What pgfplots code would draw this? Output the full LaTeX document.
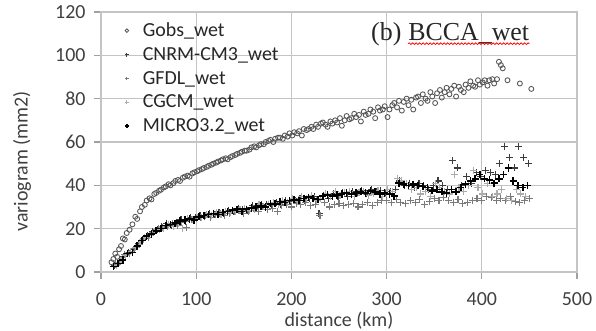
\documentclass[border=0pt]{standalone}
\usepackage{pgfplots}
\pgfplotsset{compat=1.18}
\usepackage{fontspec}
\setmainfont{Carlito}
\newfontfamily\tnr{Liberation Serif}
\usetikzlibrary{decorations.pathmorphing}
\definecolor{txt}{HTML}{404040}
\definecolor{gridc}{HTML}{C4C4C4}
\definecolor{tickc}{HTML}{A0A0A0}
\definecolor{cnrm}{HTML}{3C3C3C}
\definecolor{gfdl}{HTML}{7A7A7A}
\definecolor{cgcm}{HTML}{ABABAB}
\definecolor{gobs}{HTML}{555555}
\pgfplotsset{lgd/.style={legend image code/.code={\path (0cm,0cm) (0.52cm,0cm); \draw[##1, mark size=1.8bp, line width=0.7bp] plot coordinates {(0cm,0cm)};}}}
\begin{document}
\begin{tikzpicture}
\useasboundingbox (-101bp,-59bp) rectangle (495bp,272bp);
\begin{axis}[
  scale only axis, width=476bp, height=260bp,
  xmin=0, xmax=500, ymin=0, ymax=120,
  xtick={0,100,...,500}, ytick={0,20,...,120},
  xmajorgrids, ymajorgrids,
  major grid style={draw=gridc, line width=1.3bp},
  axis line style={draw=gridc, line width=1.3bp},
  major tick style={draw=tickc, line width=1.3bp},
  tick align=outside, major tick length=7bp,
  xtick pos=bottom, ytick pos=left,
  /pgf/number format/assume math mode=true,
  ticklabel style={font=\fontsize{20}{24}\selectfont, text=txt},
  xticklabel style={yshift=-10bp},
  yticklabel style={xshift=-5bp},
  xlabel={distance (km)}, ylabel={variogram (mm2)},
  label style={font=\fontsize{20}{24}\selectfont, text=txt},
  xlabel style={at={(rel axis cs:0.5,0)}, anchor=base, yshift=-54bp},
  ylabel style={at={(rel axis cs:0,0.425)}, anchor=center, yshift=79bp},
  legend style={draw=none, fill=none, at={(rel axis cs:0.044,0.97)}, anchor=north west,
    font=\fontsize{20}{24}\selectfont, text=black!85, row sep=7.3bp,
    nodes={inner sep=1bp}},
  legend cell align=left,
]
\addplot[only marks, mark=o, mark size=2.5bp, mark options={draw=gobs, line width=0.85bp}, lgd] coordinates {
(11,4.5)(13,6)(15,8.5)(17,7)(19,10.5)(21,12)(23,15.5)(25,15)(27,18)(30,19.5)(33,22)(36,25.5)(38,24.5)(41,28)(43,30)(46,31)(48,33)(51,34)(53,33.5)(56,36)(58,36.5)(61,37.5)(63,38)(66,39)(68,39.5)(71,40.5)(73,40)(76,41)(78,42)(81,42.5)(83,42)(86,43.5)(88,44)(91,44.5)(93,44)(96,45.5)(98,46)(101,46.5)(103,47)(106,47.5)(108,48)(111,48.5)(113,49)(116,49.5)(118,50)(121,50.5)(123,51)(126,51.5)(128,52)(131,52.5)(133,52)(136,53)(138,53.5)(141,54)(143,54.5)(146,55)(148,55.5)(151,56)(153,56)(156,56.5)(158,57.5)(161,58)(163,57.5)(166,58.5)(168,59)(171,59)(173,60)(176,60.5)(178,61)(181,60)(183,61.5)(186,62)(188,62)(191,61.5)(193,63)(196,62.5)(198,64)(201,63)(203,64.5)(206,64)(208,65)(211,63)(213,66)(216,65.5)(218,66)(221,67)(223,66)(226,68)(228,67)(231,68.5)(233,69)(236,68)(238,67)(241,69.5)(243,68.5)(246,70)(248,69)(251,71)(253,67.5)(256,70)(258,72)(261,70.5)(263,71)(266,73)(268,71.5)(271,72.5)(273,69.5)(276,74)(278,72.5)(281,73)(283,75)(286,74)(288,71)(291,76)(293,74.5)(296,75)(298,76.5)(301,71.5)(303,75)(306,77)(308,78)(311,76)(313,79)(316,74.5)(318,78.5)(321,80)(323,77)(326,79.5)(328,75)(331,80.5)(333,81)(336,78)(338,82)(341,80)(343,79)(346,83)(348,81)(351,78)(353,82.5)(356,84)(358,80.5)(361,83)(363,85)(366,82)(368,84.5)(371,86)(373,81)(376,85.5)(378,84)(381,83)(383,86.5)(386,85)(388,88)(391,86)(393,85.5)(396,88.5)(398,86.5)(401,87.5)(403,88.5)(406,86)(408,88.5)(411,89)(413,87)(416,89)(418,97)(420,95.5)(422,94)(427,88.5)(440,87)(452,84.5)
};
\addlegendentry{Gobs\_wet}
\addplot[only marks, mark=+, mark size=3.5bp, mark options={draw=cnrm, line width=1.1bp}, lgd] coordinates {
(14,3)(19,4.5)(24,7)(29,9)(34,10.5)(39,13)(44,15)(49,17)(54,18.5)(59,19.5)(64,21)(69,22.5)(74,21.5)(79,23)(84,24)(89,23.5)(94,25)(99,25)(104,26)(109,25.5)(114,27)(119,26.5)(124,27.5)(129,27)(134,28.5)(139,28)(144,29.5)(149,29)(154,28.5)(159,30.5)(164,30)(169,31)(174,31)(179,30.5)(184,32)(189,31)(194,33)(199,32.5)(204,33)(209,34)(214,33)(219,34)(224,35)(229,27)(234,35.5)(239,34)(244,36)(249,35)(254,36.5)(259,35)(264,37)(269,36)(274,37.5)(279,36)(284,38)(289,37)(294,37.5)(299,36)(304,37)(309,38)(314,42)(319,40)(324,41)(329,39)(334,41)(339,40)(344,38)(349,40)(354,42)(359,40)(364,38)(369,51.5)(374,48)(379,40)(384,44)(389,41)(394,46)(399,44)(404,47)(409,46)(414,45)(419,50)(424,58)(429,53)(434,48)(439,58)(444,53)(449,50)
};
\addlegendentry{CNRM-CM3\_wet}
\addplot[only marks, mark=+, mark size=3.5bp, mark options={draw=gfdl, line width=1.1bp}, lgd] coordinates {
(15,3.5)(20,5)(25,8)(30,8.5)(35,11)(40,12.5)(45,15.5)(50,16)(55,18)(60,20)(65,20.5)(70,21)(75,22.5)(80,21.5)(85,23)(90,20.5)(95,24)(100,24.5)(105,25)(110,26)(115,25)(120,26.5)(125,27)(130,26)(135,27)(140,28)(145,28.5)(150,27)(155,28)(160,29.5)(165,28)(170,30)(175,29)(180,29.5)(185,28)(190,30.5)(195,31)(200,30)(205,31.5)(210,31)(215,32)(220,30.5)(225,31)(230,26)(235,32)(240,30)(245,31)(250,31.5)(255,30.5)(260,31)(265,31.5)(270,30)(275,31)(280,32)(285,30.5)(290,32)(295,33)(300,33)(305,32)(310,33.5)(315,32)(320,31.5)(325,33)(330,32)(335,33.5)(340,31)(345,32.5)(350,34)(355,33)(360,34.5)(365,33)(370,32)(375,33.5)(380,31.5)(385,32)(390,33)(395,34)(400,33)(405,35)(410,34.5)(415,33)(420,34)(425,33)(430,35)(435,32.5)(440,32)(445,33)(450,34)
};
\addlegendentry{GFDL\_wet}
\addplot[only marks, mark=+, mark size=3.5bp, mark options={draw=cgcm, line width=1.1bp}, lgd] coordinates {
(16,3)(21,5.5)(26,7.5)(31,9.5)(36,11.5)(41,13.5)(46,16)(51,17)(56,18.5)(61,19.5)(66,20)(71,22)(76,21)(81,22.5)(86,20)(91,24.5)(96,24)(101,25)(106,25)(111,26.5)(116,26)(121,27.5)(126,26.5)(131,28)(136,27.5)(141,28)(146,29)(151,29.5)(156,28.5)(161,29)(166,31)(171,30)(176,31)(181,32)(186,31)(191,33)(196,32)(201,34)(206,32.5)(211,35)(216,34)(221,35.5)(226,33)(231,34)(236,36)(241,35)(246,37)(251,35.5)(256,36.5)(261,37)(266,35)(271,36.5)(276,37)(281,35.5)(286,36)(291,37.5)(296,35)(301,38)(306,37)(311,43)(316,42)(321,41)(326,38)(331,39)(336,36)(341,37)(346,35)(351,41)(356,39)(361,37)(366,36)(371,45)(376,39)(381,37)(386,40)(391,47)(396,39)(401,36)(406,41)(411,35)(416,36)(421,38)(426,34)(431,33)(436,38)(441,36)(446,35)
};
\addlegendentry{CGCM\_wet}
\addplot[only marks, mark=+, mark size=3.6bp, mark options={draw=black, line width=1.6bp}, lgd] coordinates {
(13,2.5)(18,4)(23,5.5)(28,8.5)(33,9)(38,12)(43,14.5)(48,16.5)(53,17.5)(58,19)(63,20)(68,21.5)(73,22)(78,22.5)(83,23.5)(88,24)(93,24.5)(98,24)(103,25.5)(108,26)(113,26.5)(118,27)(123,26.5)(128,27.5)(133,28)(138,28.5)(143,29)(148,28)(153,29)(158,29.5)(163,30)(168,30.5)(173,30)(178,31.5)(183,31.5)(188,32.5)(193,32)(198,33)(203,33.5)(208,33)(213,34)(218,34.5)(223,34)(228,33.5)(233,35)(238,35.5)(243,35)(248,35.5)(253,36)(258,36.5)(263,36)(268,36.5)(273,37)(278,36.5)(283,37.5)(288,37)(293,36)(298,36.5)(303,36)(308,35)(313,41)(318,40.5)(323,40)(328,40.5)(333,40)(338,39.5)(343,39)(348,37.5)(353,38)(358,37)(363,36.5)(368,38)(373,37)(378,39)(383,40.5)(388,42)(393,43)(398,45)(403,43)(408,42.5)(413,41)(418,43)(423,45)(428,48)(433,42)(438,40)(443,39)(448,40)
};
\addlegendentry{MICRO3.2\_wet}
\node[anchor=base west, inner sep=0pt, font=\tnr\fontsize{26}{30}\selectfont, text=black!85] (tb) at (axis cs:283.6,107) {(b)};
\node[anchor=base west, inner sep=0pt, font=\tnr\fontsize{26}{30}\selectfont, text=black!85] (bc) at ([xshift=6.5bp]tb.base east) {BCCA\_wet};
\draw[red, line width=0.8bp, decorate, decoration={snake, amplitude=0.8bp, segment length=3.5bp}] ([yshift=-3.5bp]bc.base west) -- ([yshift=-3.5bp]bc.base east);
\end{axis}
\end{tikzpicture}
\end{document}
